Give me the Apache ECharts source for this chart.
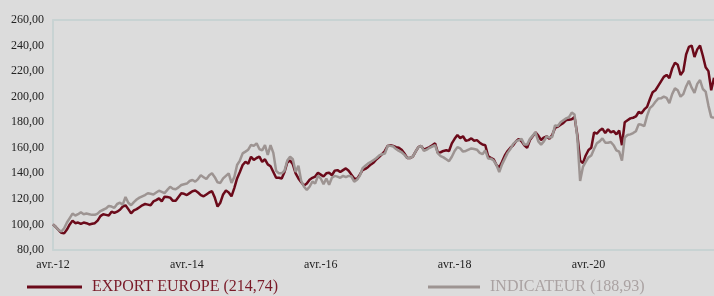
<!DOCTYPE html>
<html>
<head>
<meta charset="utf-8">
<script src="https://cdn.jsdelivr.net/npm/echarts@6/dist/echarts.min.js"></script>
<style>
  html, body { margin: 0; padding: 0; background: #dcdcdc; }
  #chart { width: 714px; height: 296px; }
</style>
</head>
<body>
<div id="chart"></div>
<script>
  // valeurs bimensuelles, base 100 en avril 2012
  const exportEurope = [
    100, 98, 95.5, 93.5, 93, 96, 100, 103, 101, 101.5,
    100.5, 101.5, 101, 100, 100.5, 101, 103, 106.5, 108, 107.5,
    107, 110, 109, 110, 111.5, 114, 115, 112, 108.7, 111,
    112, 113.5, 115, 116, 115.5, 115, 118, 119, 120.4, 118,
    121.7, 121.5, 121, 118.5, 118.5, 121.5, 124.4, 124, 123, 124.5,
    126, 126.5, 125, 123, 122, 123.5, 125, 126, 121, 114,
    117, 123.5, 126.5, 125, 122, 128.5, 136, 141, 146.5, 149,
    147.5, 153, 150.5, 152, 153, 149, 151, 147, 145.5, 141,
    136.5, 136.5, 136, 141, 148.5, 150, 147, 140, 136, 133,
    130.5, 132, 135, 136.5, 137.5, 140.5, 139, 137.5, 140, 140.5,
    138.5, 142, 142.5, 141, 142.5, 143.9, 142, 139, 136, 135.5,
    139, 142.6, 143.5, 145, 147, 148.5, 151, 153, 155, 157.5,
    161.5, 162, 161.5, 160.5, 160, 158.5, 155.5, 152, 152, 153,
    157, 160.5, 161.5, 158.5, 159.5, 160.5, 162, 163.5, 156, 156.5,
    157.5, 158, 157.5, 163.5, 167, 170, 167.5, 169, 165.5, 166,
    167.4, 165.5, 166, 164, 162.5, 162, 153.5, 152, 151, 146.5,
    144.5, 149, 154, 157.5, 160, 162, 165, 167, 165, 162,
    160, 166, 169, 172, 169.5, 166.1, 168, 169, 167, 170,
    175.5, 176.5, 178, 179.5, 181.7, 182, 182.3, 184, 170, 150,
    148, 154, 158.3, 160, 172, 171, 173.5, 175, 171.5, 174.5,
    172, 173, 170.5, 173.5, 162, 180, 181.5, 183, 183.5, 184.5,
    188, 187, 190, 192, 198, 203.5, 205, 208.5, 212, 215.5,
    217, 214.5, 222, 226.5, 225, 217, 220, 233, 239, 240,
    231, 237, 240, 232, 223, 220, 205, 214.74
  ];
  const indicateur = [
    100, 98, 95.5, 94.5, 97, 101.5, 105, 108.5, 107, 108,
    109.5, 108, 108.5, 108, 107.5, 107.5, 108.5, 110.5, 111.5, 112.5,
    114.5, 114, 113, 116, 117, 115.5, 121.5, 117, 115, 117.5,
    119.5, 121, 122, 123, 124.4, 124, 123.5, 125, 126.4, 125.5,
    124.5, 127, 129.5, 128, 127.5, 129, 130.9, 131.5, 132, 134,
    134.8, 133.5, 135.5, 138.5, 137, 135.5, 138.5, 140, 137, 133,
    132.5, 136, 138, 140, 132.5, 137, 146.5, 150, 155.6, 157,
    158.5, 162.2, 161.5, 163.5, 159, 158, 162, 154.5, 162, 156,
    142, 140, 140, 142, 150, 153, 151, 141, 146, 134,
    129.5, 127, 129.5, 133.5, 132, 138, 136, 131.5, 136, 131,
    136.5, 138, 137.4, 136.5, 138, 137, 138, 137.5, 133.5, 135,
    138, 144, 146, 147.8, 149, 150.5, 152, 154, 155, 155.5,
    161.5, 161.5, 161, 159, 157.5, 156.5, 154.5, 152, 152, 153,
    157, 160.5, 161.5, 157.5, 158.5, 160, 161, 162, 155.6, 153.5,
    152.5, 151, 149.5, 153, 157.5, 160.5, 159.5, 157, 157.5, 158.5,
    159.5, 159, 158.5, 156, 155, 158, 151.7, 151.5, 150, 146.5,
    141, 147, 151.5, 156, 159, 163, 165, 166, 167, 162.5,
    162.5, 167, 169.5, 172, 165, 162.5, 165, 169, 168, 168.5,
    177.5, 177, 180, 181.5, 183, 184, 187.5, 186, 168, 134,
    145, 149, 152.5, 154, 159, 163.5, 165, 167.4, 164, 164,
    164.5, 162, 158, 156.9, 150, 168, 170, 170.5, 171.5, 173,
    178.5, 178, 177, 185, 191, 193, 196, 198.5, 198.7, 200,
    199, 195, 202, 206.5, 205, 200, 202, 208, 212.5, 207,
    203, 210, 213, 206, 204, 193, 184, 183.5
  ];
  const tickLabels = ['avr.-12', 'avr.-14', 'avr.-16', 'avr.-18', 'avr.-20'];
  const legendNames = ['EXPORT EUROPE (214,74)', 'INDICATEUR (188,93)'];

  const periods = exportEurope.map((v, i) => i);
  const fontFamily = "'Liberation Serif', 'Times New Roman', serif";
  const rouge = '#6b0a1a';
  const gris = '#9d9492';
  const bordure = '#c8d3d3';

  const chart = echarts.init(document.getElementById('chart'));
  chart.setOption({
    backgroundColor: '#dcdcdc',
    animation: false,
    textStyle: { fontFamily: fontFamily },
    grid: { left: 53, right: 0, top: 20, bottom: 46 },
    legend: [{
      left: 22,
      top: 274,
      icon: 'rect',
      itemWidth: 55,
      itemHeight: 3,
      data: [{ name: legendNames[0], textStyle: { color: '#7a1a28' } }],
      textStyle: { fontFamily: fontFamily, fontSize: 16, padding: [0, 0, 0, 5] }
    }, {
      left: 423,
      top: 274,
      icon: 'rect',
      itemWidth: 52,
      itemHeight: 3,
      data: [{ name: legendNames[1], textStyle: { color: '#aaa2a2' } }],
      textStyle: { fontFamily: fontFamily, fontSize: 16, padding: [0, 0, 0, 5] }
    }],
    xAxis: [{
      type: 'category',
      data: periods,
      boundaryGap: false,
      axisLine: { lineStyle: { color: bordure, width: 2 } },
      axisTick: { show: false },
      axisLabel: {
        interval: 47,
        color: '#222',
        fontSize: 12,
        margin: 9,
        fontFamily: fontFamily,
        formatter: (v, idx) => tickLabels[idx / 48] || ''
      },
      splitLine: { show: false }
    }, {
      type: 'category',
      position: 'top',
      data: periods,
      boundaryGap: false,
      axisLine: { lineStyle: { color: bordure, width: 2 } },
      axisTick: { show: false },
      axisLabel: { show: false }
    }],
    yAxis: {
      type: 'value',
      min: 80,
      max: 260,
      interval: 20,
      axisLine: { show: true, lineStyle: { color: bordure, width: 2 } },
      axisTick: { show: false },
      splitLine: { show: false },
      axisLabel: {
        color: '#222',
        fontSize: 12,
        margin: 9,
        fontFamily: fontFamily,
        formatter: v => v.toFixed(2).replace('.', ',')
      }
    },
    series: [{
      name: legendNames[0],
      type: 'line',
      data: exportEurope,
      showSymbol: false,
      color: rouge,
      lineStyle: { color: rouge, width: 2.5 }
    }, {
      name: legendNames[1],
      type: 'line',
      data: indicateur,
      showSymbol: false,
      color: gris,
      lineStyle: { color: gris, width: 2.5 }
    }]
  });
</script>
</body>
</html>
